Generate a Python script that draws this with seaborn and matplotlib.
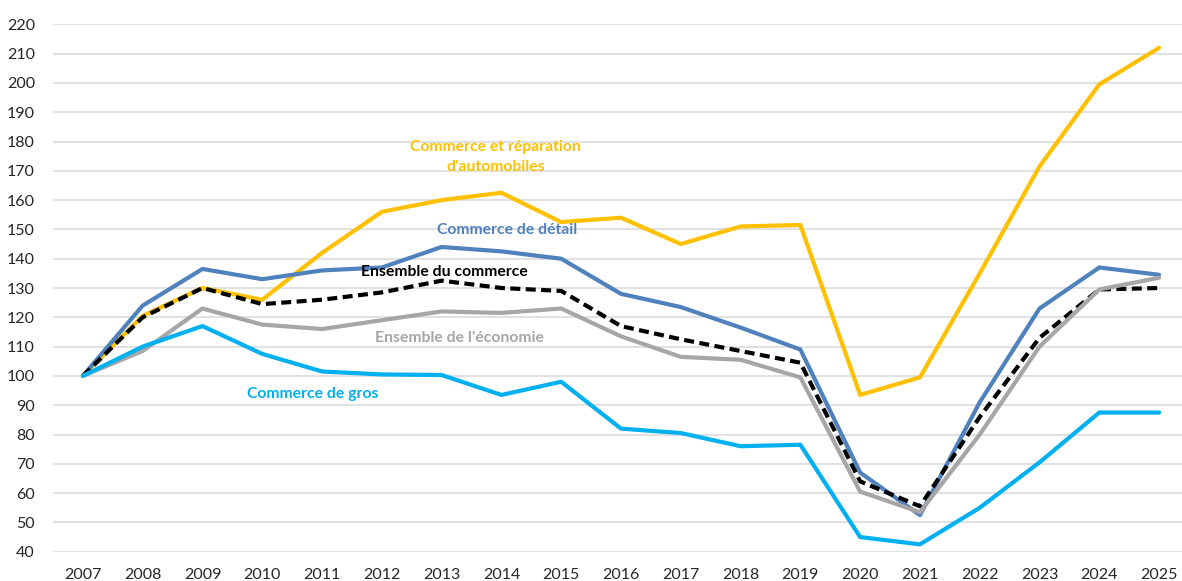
import matplotlib
matplotlib.use("Agg")
import matplotlib.pyplot as plt
import seaborn as sns
import pandas as pd

years = list(range(2007, 2026))
auto = [100, 120.5, 130, 126, 142, 156, 160, 162.5, 152.5, 154, 145, 151, 151.5, 93.5, 99.5, 135, 171.5, 199.5, 212]
detail = [100, 124, 136.5, 133, 136, 137, 144, 142.5, 140, 128, 123.5, 116.5, 109, 67, 52.5, 91, 123, 137, 134.5]
commerce = [100, 120, 130, 124.5, 126, 128.5, 132.5, 130, 129, 117, 112.5, 108.5, 104.5, 64, 55.5, 86, 113, 129.5, 130]
economie = [100, 108.5, 123, 117.5, 116, 119, 122, 121.5, 123, 113.5, 106.5, 105.5, 99.5, 60.5, 53.5, 80, 110, 129.5, 133.5]
gros = [100, 110, 117, 107.5, 101.5, 100.5, 100.3, 93.5, 98, 82, 80.5, 76, 76.5, 45, 42.5, 55, 70.5, 87.5, 87.5]

series_names = ["Commerce et réparation\nd'automobiles", "Commerce de détail", "Ensemble du commerce",
                "Ensemble de l'économie", "Commerce de gros"]
series_values = [auto, detail, commerce, economie, gros]
colors = ["#FFC000", "#4F81BD", "#000000", "#A6A6A6", "#00B0F0"]
label_pos = [(2013.9, 174.7), (2014.1, 149.8), (2013.05, 135.5), (2013.3, 113), (2010.85, 93.8)]

sns.set_theme(style="white")
plt.rcParams['font.family'] = ['Lato', 'DejaVu Sans']

fig = plt.figure(figsize=(11.82, 5.81), dpi=100)
ax = fig.add_axes([53/1182, 1-551.7/581, 1136/1182, (551.7-24.3)/581])

order = [3, 4, 1, 0, 2]
for i in order:
    df = pd.DataFrame({"year": years, "value": series_values[i]})
    ls = (0, (2.4, 1.3)) if i == 2 else "-"
    sns.lineplot(data=df, x="year", y="value", ax=ax, color=colors[i], linewidth=3.0,
                 linestyle=ls, zorder=3 + i)

for i, (name, (x, y)) in enumerate(zip(series_names, label_pos)):
    ax.text(x, y, name, color=colors[i], fontsize=11.3, fontweight="bold",
            ha="center", va="center", linespacing=1.5, zorder=10)

ax.set_xlim(2006.5, 2025.5)
ax.set_ylim(40, 220)
ax.set_yticks(range(40, 221, 10))
ax.set_xticks(years)
ax.set_xticklabels([str(y) for y in years])
ax.yaxis.grid(True, color="#D9D9D9", linewidth=1.1)
ax.xaxis.grid(False)
ax.set_axisbelow(True)
for s in ax.spines.values():
    s.set_visible(False)
ax.tick_params(axis="both", length=0, labelsize=11.5, colors="#262626")
ax.tick_params(axis="x", pad=12)
ax.tick_params(axis="y", pad=13)
ax.set_xlabel("")
ax.set_ylabel("")

fig.savefig("out.png", dpi=100)
